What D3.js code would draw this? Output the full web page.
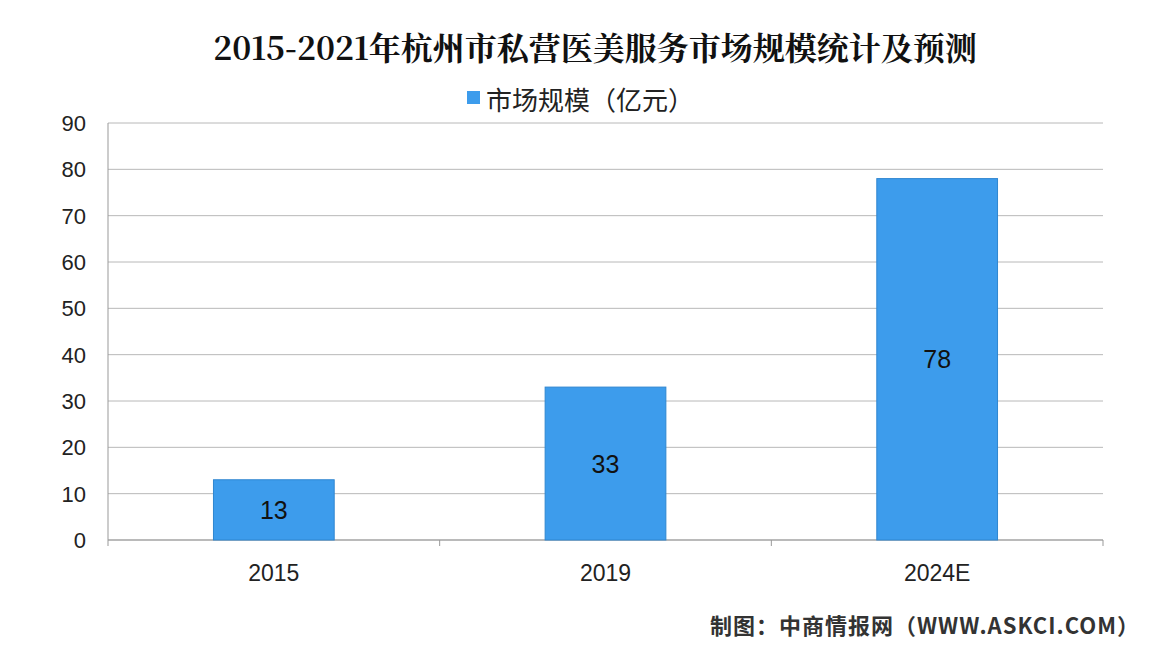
<!DOCTYPE html>
<html><head><meta charset="utf-8">
<script src="https://cdn.jsdelivr.net/npm/d3@7"></script>
<style>body{margin:0;background:#fff}</style></head>
<body><svg id="c" width="1152" height="652"></svg>
<script>
const categories = ["2015","2019","2024E"];
const values = [13, 33, 78];
const yTicks = [0,10,20,30,40,50,60,70,80,90];
const title = "2015-2021年杭州市私营医美服务市场规模统计及预测";
const seriesName = "市场规模（亿元）";
const source = "制图：中商情报网（WWW.ASKCI.COM）";

const svg = d3.select("#c");
const m = {l:108, r:1103, t:123, b:540};
const x = d3.scaleBand().domain(categories).range([m.l, m.r]).paddingInner(0.636).paddingOuter(0.318);
const y = d3.scaleLinear().domain([0,90]).range([m.b, m.t]);

svg.append("g").selectAll("line").data(yTicks).join("line")
  .attr("x1", m.l).attr("x2", m.r).attr("y1", d=>y(d)).attr("y2", d=>y(d))
  .attr("stroke", "#b8b8b8").attr("stroke-width", 1);
svg.append("line").attr("x1",m.l).attr("x2",m.l).attr("y1",m.t).attr("y2",m.b).attr("stroke","#999");
svg.append("line").attr("x1",m.l).attr("x2",m.r).attr("y1",m.b).attr("y2",m.b).attr("stroke","#999");
const bounds = categories.map((c,i)=>m.l + i*((m.r-m.l)/categories.length)).concat([m.r]);
svg.append("g").selectAll("line").data(bounds).join("line")
  .attr("x1",d=>d).attr("x2",d=>d).attr("y1",m.b).attr("y2",m.b+6).attr("stroke","#999");

svg.append("g").selectAll("text").data(yTicks).join("text")
  .attr("x", 86).attr("y", d=>y(d)+8).attr("text-anchor","end")
  .attr("font-family","Liberation Sans, Arial").attr("font-size",22).attr("fill","#222").text(d=>d);
svg.append("g").selectAll("text").data(categories).join("text")
  .attr("x", d=>x(d)+x.bandwidth()/2).attr("y", 581).attr("text-anchor","middle")
  .attr("font-family","Liberation Sans, Arial").attr("font-size",23).attr("fill","#222").text(d=>d);

svg.append("g").selectAll("rect").data(values).join("rect")
  .attr("x",(d,i)=>x(categories[i])).attr("width",x.bandwidth())
  .attr("y",d=>y(d)).attr("height",d=>m.b-y(d))
  .attr("fill","#3d9cec").attr("stroke","#2f86d0").attr("stroke-width",1);
svg.append("g").selectAll("text").data(values).join("text")
  .attr("x",(d,i)=>x(categories[i])+x.bandwidth()/2).attr("y",d=>(y(d)+m.b)/2+9)
  .attr("text-anchor","middle").attr("font-family","Liberation Sans, Arial").attr("font-size",25).attr("fill","#111").text(d=>d);

svg.append("text").attr("x",595).attr("y",60).attr("text-anchor","middle")
  .attr("font-family","Noto Serif CJK SC, Noto Sans CJK SC, serif").attr("font-weight","bold")
  .attr("font-size",32).attr("fill","#111").text(title);
svg.append("rect").attr("x",467).attr("y",91).attr("width",13).attr("height",13).attr("fill","#3d9cec");
svg.append("text").attr("x",486).attr("y",110).attr("font-family","Noto Sans CJK SC")
  .attr("font-size",26).attr("fill","#222").text(seriesName);
svg.append("text").attr("x",1140).attr("y",634).attr("text-anchor","end").attr("font-family","Noto Sans CJK SC")
  .attr("font-weight","bold").attr("font-size",22).attr("letter-spacing",1).attr("fill","#333").text(source);
</script></body></html>
